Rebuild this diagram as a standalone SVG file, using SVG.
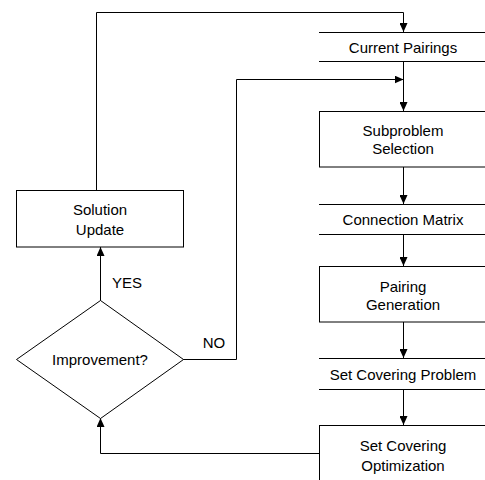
<svg xmlns="http://www.w3.org/2000/svg" width="485" height="480" viewBox="0 0 485 480">
<style>
.box{fill:#fff;stroke:#000;stroke-width:1}
.ds{stroke:#000;stroke-width:1;fill:none}
.t{font-family:"Liberation Sans",Arial,sans-serif;font-size:15px;fill:#000;text-anchor:middle;dominant-baseline:central}
.c{fill:none;stroke:#000;stroke-width:1;marker-end:url(#ah)}
</style>
<defs>
<marker id="ah" markerUnits="userSpaceOnUse" markerWidth="9" markerHeight="8" viewBox="0 0 9 8" refX="9" refY="4" orient="auto">
<path d="M0,0 L9,4 L0,8 z" fill="#000"/>
</marker>
</defs>
<rect width="485" height="480" fill="#fff"/>
<g id="connectors">
<path class="c" d="M96.5,191 V12.5 H403.5 V32"/>
<path class="c" d="M183,359.5 H236.5 V79.5 H403.5"/>
<path class="c" d="M403.5,61 V111"/>
<path class="c" d="M403.5,167 V204"/>
<path class="c" d="M403.5,234 V266"/>
<path class="c" d="M403.5,322 V358"/>
<path class="c" d="M403.5,389 V425"/>
<path class="c" d="M319,453.5 H100.5 V418"/>
<path class="c" d="M100.5,301 V247"/>
</g>
<g id="current-pairings">
<path class="ds" d="M319,32.5 H487 M319,61.5 H487"/>
<text class="t" x="403" y="47">Current Pairings</text>
</g>
<g id="subproblem-selection">
<rect class="box" x="319.5" y="111.5" width="168" height="55.5"/>
<text class="t" x="403" y="130.5">Subproblem</text>
<text class="t" x="403" y="148">Selection</text>
</g>
<g id="connection-matrix">
<path class="ds" d="M319,204.5 H487 M319,234.5 H487"/>
<text class="t" x="403" y="219">Connection Matrix</text>
</g>
<g id="pairing-generation">
<rect class="box" x="319.5" y="266.5" width="168" height="55.5"/>
<text class="t" x="403" y="286.5">Pairing</text>
<text class="t" x="403" y="304">Generation</text>
</g>
<g id="set-covering-problem">
<path class="ds" d="M319,358.5 H487 M319,389.5 H487"/>
<text class="t" x="403" y="374.5">Set Covering Problem</text>
</g>
<g id="set-covering-optimization">
<rect class="box" x="319.5" y="425.5" width="168" height="60"/>
<text class="t" x="403" y="445">Set Covering</text>
<text class="t" x="403" y="465">Optimization</text>
</g>
<g id="solution-update">
<rect class="box" x="16.5" y="190.5" width="167" height="56.5"/>
<text class="t" x="100" y="209">Solution</text>
<text class="t" x="100" y="229">Update</text>
</g>
<g id="improvement">
<path class="box" d="M100.5,300.5 L183.5,359.5 L100.5,418.5 L16.5,359.5 Z"/>
<text class="t" x="100" y="359">Improvement?</text>
</g>
<g id="labels">
<text class="t" x="127" y="282.5">YES</text>
<text class="t" x="214" y="342.5">NO</text>
</g>
</svg>
